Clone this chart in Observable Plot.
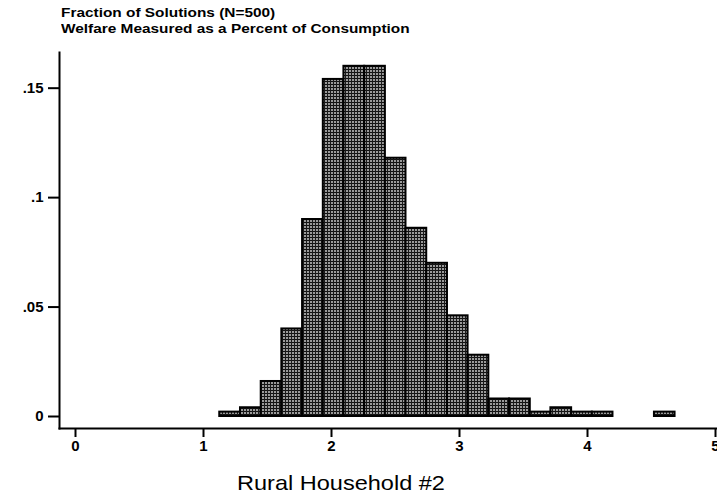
<!DOCTYPE html>
<html>
<head>
<meta charset="utf-8">
<script src="https://cdn.jsdelivr.net/npm/d3@7"></script>
<script src="https://cdn.jsdelivr.net/npm/@observablehq/plot@0.6"></script>
<style>
  html, body { margin: 0; padding: 0; background: #fff; }
  #wrap { position: relative; width: 717px; height: 500px; overflow: hidden; font-family: "Liberation Sans", Arial, sans-serif; }
  #wrap svg { position: absolute; left: 0; top: 0; }
  .title { position: absolute; left: 61px; font-weight: bold; font-size: 13.5px; color: #000; white-space: nowrap; line-height: 1; transform: scaleX(1.14); transform-origin: left top; }
  .xlab { position: absolute; top: 472px; left: 0; width: 682px; text-align: center; font-size: 21px; color: #000; white-space: nowrap; line-height: 1; transform: scaleX(1.12); transform-origin: 341px 0; }
</style>
</head>
<body>
<div id="wrap">
  <div class="title" style="top:6px">Fraction of Solutions (N=500)</div>
  <div class="title" style="top:22px">Welfare Measured as a Percent of Consumption</div>
  <div class="xlab">Rural Household #2</div>
</div>
<script>
// Histogram bin edges (welfare, percent of consumption)
const binEdges = [1.127, 1.289, 1.451, 1.612, 1.774, 1.936, 2.097, 2.259, 2.421, 2.582, 2.744, 2.906, 3.067, 3.229, 3.391, 3.553, 3.714, 3.876, 4.038, 4.199, 4.361, 4.523, 4.684];
// Fraction of solutions in each bin
const fractions = [0.002, 0.004, 0.016, 0.040, 0.090, 0.154, 0.160, 0.160, 0.118, 0.086, 0.070, 0.046, 0.028, 0.008, 0.008, 0.002, 0.004, 0.002, 0.002, 0, 0, 0.002];
// Axis ticks
const xTicks = [0, 1, 2, 3, 4, 5];
const xTickLabels = ["0", "1", "2", "3", "4", "5"];
const yTicks = [0, 0.05, 0.1, 0.15];
const yTickLabels = ["0", ".05", ".1", ".15"];

const bins = fractions
  .map((f, i) => ({x1: binEdges[i], x2: binEdges[i + 1], y: f}))
  .filter(d => d.y > 0);

const chart = Plot.plot({
  width: 717,
  height: 500,
  marginLeft: 59,
  marginRight: 0,
  marginTop: 52,
  marginBottom: 72,
  style: {fontFamily: "Liberation Sans, Arial, sans-serif", fontSize: "14px", background: "transparent", color: "#000", overflow: "visible"},
  x: {domain: [-0.125, 5.0156]},
  y: {domain: [-0.00548, 0.1663]},
  marks: [
    Plot.rectY(bins, {x1: "x1", x2: "x2", y: "y", fill: "url(#hatch)", stroke: "#000", strokeWidth: 2}),
    Plot.frame({anchor: "left", stroke: "#000", strokeWidth: 2}),
    Plot.frame({anchor: "bottom", stroke: "#000", strokeWidth: 2}),
    Plot.axisY({ticks: yTicks, tickFormat: (d, i) => yTickLabels[i], tickSize: 11, tickPadding: 5, fontSize: 15, fontWeight: "bold", strokeWidth: 2, label: null}),
    Plot.axisX({ticks: xTicks, tickFormat: (d, i) => xTickLabels[i], tickSize: 9, tickPadding: 3, fontSize: 15, fontWeight: "bold", strokeWidth: 2, label: null})
  ]
});

// tick label text
chart.querySelectorAll("text").forEach(t => {
  t.style.fontSize = "15px";
  t.style.fontWeight = "bold";
  t.style.fill = "#000";
});

// hatch pattern for the bars
const ns = "http://www.w3.org/2000/svg";
const defs = document.createElementNS(ns, "defs");
defs.innerHTML = `<pattern id="hatch" width="3" height="3" patternUnits="userSpaceOnUse">
  <rect width="3" height="3" fill="#9a9a9a"/>
  <rect x="0" y="0" width="3" height="1" fill="#111"/>
  <rect x="0" y="0" width="1" height="3" fill="#1a1a1a"/>
</pattern>`;
chart.insertBefore(defs, chart.firstChild);

document.getElementById("wrap").prepend(chart);
</script>
</body>
</html>
